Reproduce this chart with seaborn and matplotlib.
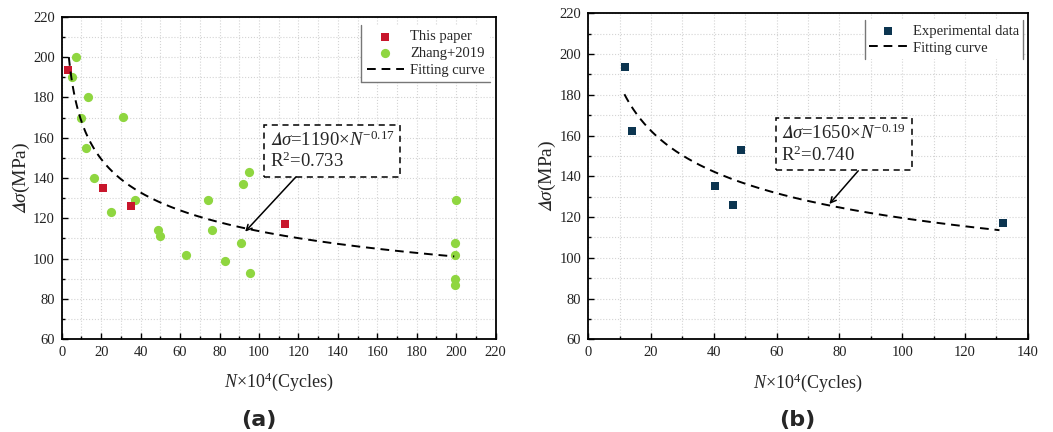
import numpy as np
import pandas as pd
import matplotlib
matplotlib.use("Agg")
import matplotlib.pyplot as plt
import seaborn as sns
from matplotlib.ticker import MultipleLocator
from matplotlib.lines import Line2D

# ---- (a) fatigue data: cycles (x10^4) and stress range (MPa) ----
paper_n = [3, 21, 35, 113]
paper_s = [193.5, 135, 126, 117]
zhang_n = [7, 5, 13.5, 10, 31, 12.5, 16.5, 25, 37, 74, 92, 95, 49, 50,
           76, 63, 83, 91, 95.5, 200, 199.5, 199.5, 199.5, 199.5]
zhang_s = [200, 190, 180, 170, 170.5, 155, 140, 123, 129, 129, 137, 143, 114, 111,
           114, 102, 99, 108, 93, 129, 108, 102, 90, 87]
fit_a_coef, fit_a_exp, fit_a_r2 = 1190, -0.17, 0.733
fit_a_range = (3.6, 199)

# ---- (b) experimental data ----
exp_n = [11.6, 13.8, 40.5, 46, 48.6, 132]
exp_s = [193.5, 162, 135, 126, 153, 117]
fit_b_coef, fit_b_exp, fit_b_r2 = 1650, -0.19, 0.740
fit_b_range = (11.5, 131)

RED = "#c8162c"
GREEN = "#8fd640"
NAVY = "#0c3550"

sns.set_style("ticks")
plt.rcParams["font.family"] = ["Liberation Serif", "DejaVu Serif"]
plt.rcParams["mathtext.fontset"] = "custom"
plt.rcParams["mathtext.rm"] = "Liberation Serif"
plt.rcParams["mathtext.it"] = "Liberation Serif:italic"
plt.rcParams["mathtext.bf"] = "Liberation Serif:bold"
plt.rcParams["mathtext.fallback"] = "stix"

# italic stress-range symbol (math italic capital delta + sigma)
DSIG = r"$𝛥\sigma$"


def fit_curve(coef, expo, rng):
    n = np.linspace(rng[0], rng[1], 300)
    return pd.DataFrame({"n": n, "s": coef * (n * 1e4) ** expo})


def style_axes(ax, xmax, xmajor):
    ax.set_xlim(0, xmax)
    ax.set_ylim(60, 220)
    ax.xaxis.set_major_locator(MultipleLocator(xmajor))
    ax.xaxis.set_minor_locator(MultipleLocator(10))
    ax.yaxis.set_major_locator(MultipleLocator(20))
    ax.yaxis.set_minor_locator(MultipleLocator(10))
    ax.grid(True, which="both", color="#d4d4d4", linestyle=":", linewidth=0.8)
    ax.set_axisbelow(True)
    for sp in ax.spines.values():
        sp.set_visible(True)
        sp.set_color("black")
        sp.set_linewidth(1.3)
    ax.tick_params(which="both", direction="in", top=False, right=False,
                   colors="black", labelsize=10.5, labelcolor="#222222")
    ax.tick_params(which="major", length=4.5, width=1.0, pad=5)
    ax.tick_params(which="minor", length=2.5, width=1.0)
    ax.set_xlabel(r"$N$×10$^4$(Cycles)", fontsize=13)
    ax.set_ylabel(DSIG + "(MPa)", fontsize=14)
    ax.xaxis.set_label_coords(0.5, -0.132)
    ax.xaxis.label.set_va("center")
    ax.yaxis.set_label_coords(-0.092, 0.5)
    ax.yaxis.label.set_va("center")


def eq_box(ax, x, y, coef, expo, r2):
    txt = (DSIG + f"={coef}" + r"×$N^{" + f"{expo:.2f}" + r"}$"
           + "\n" + r"R$^2$=" + f"{r2:.3f}")
    ax.text(x, y, txt, fontsize=13.5, ha="left", va="center", linespacing=1.15,
            bbox=dict(boxstyle="square,pad=0.3", facecolor="white",
                      edgecolor="black", linestyle=(0, (4, 3)), linewidth=1.1),
            zorder=5)


def partial_frame(fig, ax, leg, sides):
    fig.canvas.draw()
    bb = leg.get_frame().get_window_extent().transformed(ax.transAxes.inverted())
    segs = {"left": ([bb.x0, bb.x0], [bb.y0, bb.y1]),
            "right": ([bb.x1, bb.x1], [bb.y0, bb.y1]),
            "bottom": ([bb.x0, bb.x1], [bb.y0, bb.y0])}
    for s in sides:
        xs, ys = segs[s]
        ax.add_line(Line2D(xs, ys, transform=ax.transAxes, color="#777777",
                           linewidth=1.0, clip_on=False, zorder=6))


fig = plt.figure(figsize=(10.53, 4.32), dpi=100)
ax1 = fig.add_axes([0.0586, 0.2146, 0.4121, 0.7467])
ax2 = fig.add_axes([0.5587, 0.2146, 0.4173, 0.7546])

# ---- panel (a) ----
curve_a = fit_curve(fit_a_coef, fit_a_exp, fit_a_range)
sns.scatterplot(x=zhang_n, y=zhang_s, ax=ax1, marker="o", color=GREEN, s=44,
                linewidth=0, label="Zhang+2019", zorder=3)
sns.scatterplot(x=paper_n, y=paper_s, ax=ax1, marker="s", color=RED, s=34,
                linewidth=0, label="This paper", zorder=3)
sns.lineplot(data=curve_a, x="n", y="s", ax=ax1, color="black", linewidth=1.4,
             linestyle=(0, (4.5, 3)), label="Fitting curve", zorder=4)
style_axes(ax1, 220, 20)
h, l = ax1.get_legend_handles_labels()
order = [l.index("This paper"), l.index("Zhang+2019"), l.index("Fitting curve")]
leg1 = ax1.legend([h[i] for i in order], [l[i] for i in order], loc="upper right",
                  bbox_to_anchor=(0.987, 0.974), borderaxespad=0, fontsize=10.5,
                  handlelength=2.6, handletextpad=0.4, labelspacing=0.25,
                  frameon=True, fancybox=False, borderpad=0.35)
leg1.get_frame().set_edgecolor("none")
leg1.get_frame().set_facecolor("white")
leg1.get_frame().set_alpha(1)
eq_box(ax1, 105.5, 153.5, fit_a_coef, fit_a_exp, fit_a_r2)
ax1.annotate("", xy=(93, 113.4), xytext=(118.8, 140.6),
             arrowprops=dict(arrowstyle="->", color="black", lw=1.1,
                             shrinkA=0, shrinkB=0), zorder=6)

# ---- panel (b) ----
curve_b = fit_curve(fit_b_coef, fit_b_exp, fit_b_range)
sns.scatterplot(x=exp_n, y=exp_s, ax=ax2, marker="s", color=NAVY, s=36,
                linewidth=0, label="Experimental data", zorder=3)
sns.lineplot(data=curve_b, x="n", y="s", ax=ax2, color="black", linewidth=1.4,
             linestyle=(0, (4.5, 3)), label="Fitting curve", zorder=4)
style_axes(ax2, 140, 20)
leg2 = ax2.legend(loc="upper right", bbox_to_anchor=(0.99, 0.979), borderaxespad=0,
                  fontsize=10.5, handlelength=2.6, handletextpad=0.4,
                  labelspacing=0.25, frameon=True, fancybox=False, borderpad=0.3)
leg2.get_frame().set_edgecolor("none")
leg2.get_frame().set_facecolor("white")
leg2.get_frame().set_alpha(1)
eq_box(ax2, 61.5, 155.8, fit_b_coef, fit_b_exp, fit_b_r2)
ax2.annotate("", xy=(76.8, 126.4), xytext=(86, 142.7),
             arrowprops=dict(arrowstyle="->", color="black", lw=1.1,
                             shrinkA=0, shrinkB=0), zorder=6)

partial_frame(fig, ax1, leg1, ["left", "bottom"])
partial_frame(fig, ax2, leg2, ["left", "right"])

fig.text(0.246, 0.028, "(a)", fontsize=16, fontweight="bold",
         family=["DejaVu Sans"], ha="center", va="center")
fig.text(0.757, 0.028, "(b)", fontsize=16, fontweight="bold",
         family=["DejaVu Sans"], ha="center", va="center")

fig.savefig("out.png", dpi=100)
